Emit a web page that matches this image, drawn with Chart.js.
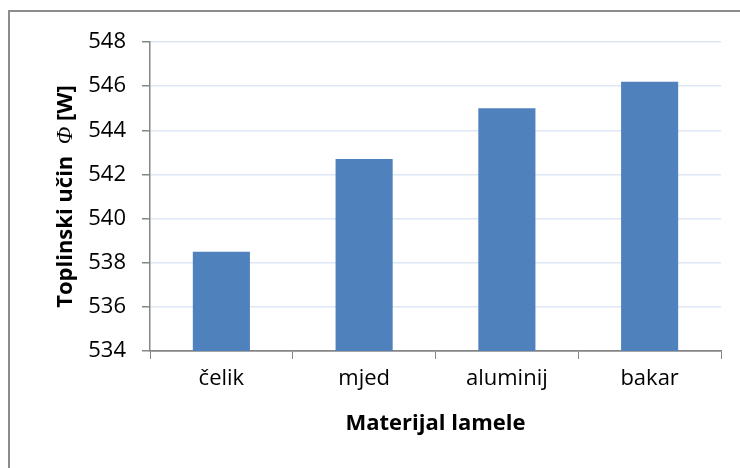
<!DOCTYPE html>
<html>
<head>
<meta charset="utf-8">
<script src="https://cdn.jsdelivr.net/npm/chart.js@4/dist/chart.umd.min.js"></script>
<style>
  html, body { margin: 0; padding: 0; background: #fff; }
  #wrap { position: relative; width: 740px; height: 468px; overflow: hidden; }
  #frame { position: absolute; left: 8px; top: 10px; width: 800px; height: 500px;
           border-left: 2px solid #8c8c8c; border-top: 2px solid #8c8c8c; }
  canvas { position: absolute; left: 0; top: 0; }
</style>
</head>
<body>
<div id="wrap">
  <div id="frame"></div>
  <canvas id="chart" width="740" height="468"></canvas>
</div>
<script>
// podaci
const materials = ['čelik', 'mjed', 'aluminij', 'bakar'];
const heatFlow = [538.5, 542.7, 545.0, 546.2];
const yMin = 534;
const yMax = 548;
const yStep = 2;

const AXIS_GREY = '#868686';
const GRID_BLUE = '#dde8f4';
const BAR_BLUE = '#4f81bd';
const FONT = "'Open Sans', 'Noto Sans', sans-serif";

// naslov y osi s kurzivnim Φ
const yTitlePlugin = {
    id: 'yTitle',
    afterDraw: function (chart) {
        const ctx = chart.ctx;
        const parts = [
            { text: 'Toplinski učin  ', font: 'bold 22px ' + FONT },
            { text: 'Φ', font: 'italic 23px "Liberation Serif", "DejaVu Serif", serif' },
            { text: ' [W]', font: 'bold 22px ' + FONT }
        ];
        let total = 0;
        parts.forEach(function (p) { ctx.font = p.font; p.w = ctx.measureText(p.text).width; total += p.w; });
        const area = chart.chartArea;
        ctx.save();
        ctx.translate(72, (area.top + area.bottom) / 2);
        ctx.rotate(-Math.PI / 2);
        ctx.fillStyle = '#000';
        ctx.textBaseline = 'alphabetic';
        let x = -total / 2;
        parts.forEach(function (p) { ctx.font = p.font; ctx.fillText(p.text, x, 0); x += p.w; });
        ctx.restore();
    }
};

new Chart(document.getElementById('chart'), {
    type: 'bar',
    data: {
        labels: materials,
        datasets: [{
            data: heatFlow,
            backgroundColor: BAR_BLUE,
            borderWidth: 0,
            barPercentage: 0.4,
            categoryPercentage: 1.0
        }]
    },
    options: {
        responsive: false,
        animation: false,
        devicePixelRatio: 1,
        layout: { padding: { top: 42, right: 19, bottom: 29, left: 0 } },
        plugins: { legend: { display: false }, tooltip: { enabled: false } },
        scales: {
            x: {
                afterFit: function (scale) { scale.height = 88; },
                grid: { drawOnChartArea: false, drawTicks: true, tickLength: 8, tickColor: AXIS_GREY },
                border: { display: true, color: AXIS_GREY, width: 1.5 },
                ticks: { color: '#000', font: { family: FONT, size: 22 }, padding: 7 },
                title: {
                    display: true,
                    text: 'Materijal lamele',
                    color: '#000',
                    font: { family: FONT, size: 22, weight: 'bold' },
                    padding: { top: 0, bottom: 2 }
                }
            },
            y: {
                min: yMin,
                max: yMax,
                afterFit: function (scale) { scale.width = 150; },
                grid: {
                    color: function (c) { return c.index === 0 ? AXIS_GREY : GRID_BLUE; },
                    lineWidth: 1.5,
                    tickLength: 8,
                    tickColor: AXIS_GREY
                },
                border: { display: true, color: AXIS_GREY, width: 1.5 },
                ticks: { stepSize: yStep, color: '#000', font: { family: FONT, size: 22 }, padding: 16 }
            }
        }
    },
    plugins: [yTitlePlugin]
});
</script>
</body>
</html>
